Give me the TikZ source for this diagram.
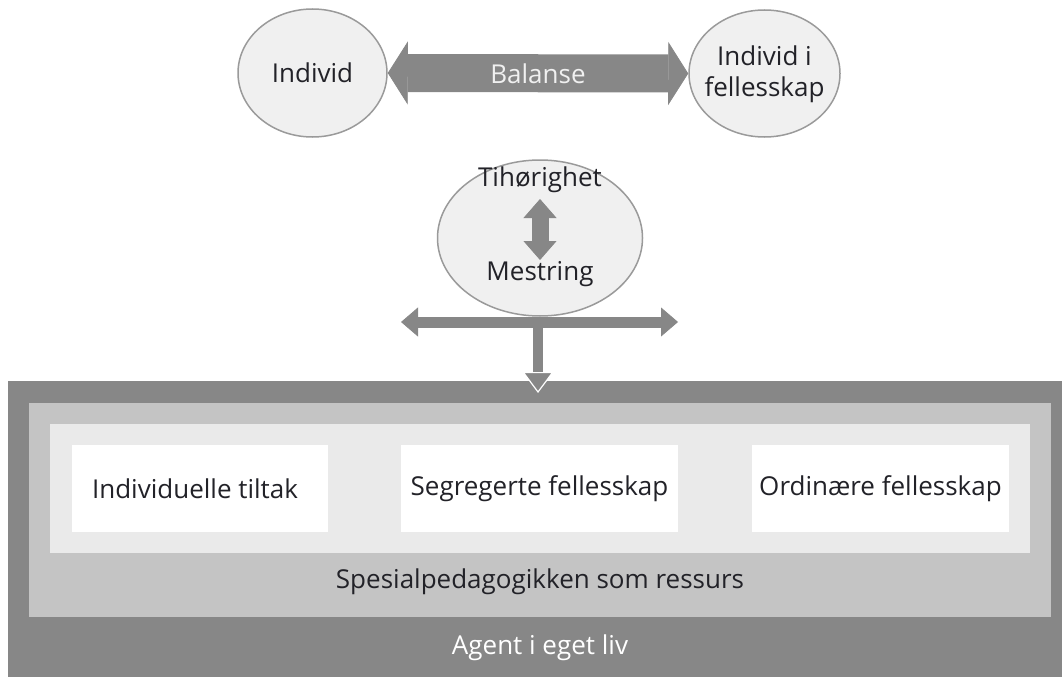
\documentclass[tikz,border=0pt]{standalone}
\usepackage{fontspec}
\setmainfont{Open Sans}
\usetikzlibrary{arrows.meta,shapes.geometric}
\definecolor{agray}{HTML}{878787}
\definecolor{lgray}{HTML}{C4C4C4}
\definecolor{llgray}{HTML}{EAEAEA}
\definecolor{cfill}{HTML}{F0F0F0}
\definecolor{cdraw}{HTML}{9A9A9A}
\definecolor{txt}{HTML}{222228}
\begin{document}
\begin{tikzpicture}[x=1pt,y=-1pt,
  ell/.style={ellipse, draw=cdraw, line width=1.5pt, fill=cfill, inner sep=0pt},
  lbl/.style={font=\fontsize{26}{31}\selectfont, text=txt, align=center, inner sep=0pt},
  panel/.style={rectangle, inner sep=0pt, anchor=north west, draw=none},
  wbox/.style={rectangle, fill=white, inner sep=0pt, font=\fontsize{26}{31}\selectfont, text=txt},
  bigarrow/.style={agray, line width=38pt, {Triangle[width=63pt,length=20pt,line width=0.8pt]}-{Triangle[width=63pt,length=20pt,line width=0.8pt]}},
  harrow/.style={agray, line width=11pt, {Triangle[width=29pt,length=17pt,line width=0.8pt]}-{Triangle[width=29pt,length=17pt,line width=0.8pt]}},
  varrow/.style={agray, line width=10.5pt, -{Triangle[width=31pt,length=21pt,line width=1.2pt,color=white,fill=agray]}},
  smallarrow/.style={agray, line width=17pt, {Triangle[width=33pt,length=19pt,line width=0.8pt]}-{Triangle[width=33pt,length=19pt,line width=0.8pt]}}
]
\useasboundingbox (0,0) rectangle (1062,677);

% bottom panels
\node[panel, fill=agray, minimum width=1054pt, minimum height=296pt] (outer) at (8,381) {};
\node[panel, fill=lgray, minimum width=1022pt, minimum height=214pt] (mid) at (29,403) {};
\node[panel, fill=llgray, minimum width=980pt, minimum height=129pt] (inner) at (50,424) {};

\node[wbox, minimum width=256pt, minimum height=87pt] (b1) at (200,488.5) {};
\node[lbl] (b1t) at (195,488.5) {Individuelle tiltak};
\node[wbox, minimum width=277pt, minimum height=87pt] (b2) at (539.5,488.5) {Segregerte fellesskap};
\node[wbox, minimum width=257pt, minimum height=87pt] (b3) at (880.5,488.5) {Ordinære fellesskap};

\node[lbl] (spes) at (540,582) {Spesialpedagogikken som ressurs};
\node[lbl, text=white] (agent) at (540,648) {Agent i eget liv};

% top ellipses
\node[ell, minimum width=149pt, minimum height=128pt] (ind) at (312.5,73) {};
\node[lbl] (indt) at (312.5,73) {Individ};
\node[ell, minimum width=151pt, minimum height=127pt] (indf) at (764.5,73.5) {};
\node[lbl] (indft) at (764.5,74) {Individ i\\fellesskap};

\draw[bigarrow] (ind.east) -- node[lbl, text=cfill] (bal) {Balanse} (indf.west);

% middle ellipse
\node[ell, minimum width=205pt, minimum height=156pt] (mel) at (540,238) {};
\node[lbl] (tih) at (540,180) {Tihørighet};
\node[lbl] (mes) at (540,274) {Mestring};
\coordinate (st) at (540,199);
\coordinate (sb) at (540,260);
\draw[smallarrow] (st) -- (sb);

% horizontal and vertical arrows
\coordinate (hl) at (401,322);
\coordinate (hr) at (678,322);
\coordinate (hm) at (538,322);
\coordinate (vb) at (538,393);
\draw[harrow] (hl) -- (hr);
\draw[varrow] (hm) -- (vb);
\end{tikzpicture}
\end{document}
